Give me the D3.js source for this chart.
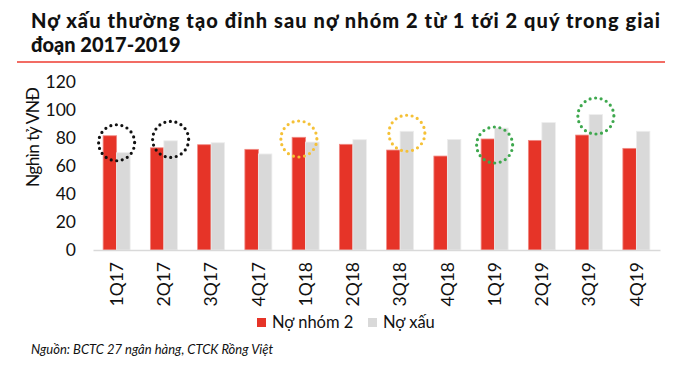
<!DOCTYPE html>
<html>
<head>
<meta charset="utf-8">
<script src="https://cdn.jsdelivr.net/npm/d3@7"></script>
<style>
  body { margin: 0; background: #fff; }
  svg { display: block; font-family: 'Lato', 'Open Sans', sans-serif; }
</style>
</head>
<body>
<svg id="chart" width="676" height="368"></svg>
<script>
const categories = ['1Q17','2Q17','3Q17','4Q17','1Q18','2Q18','3Q18','4Q18','1Q19','2Q19','3Q19','4Q19'];
const noNhom2 = [81.6, 73, 75.2, 71.9, 80.5, 75.5, 71.4, 67.1, 79.3, 78.3, 82.1, 72.6];
const noXau   = [69.5, 78, 76.6, 68.6, 77.1, 78.8, 84.8, 79, 87.1, 91, 96.7, 84.8];
const yTicks  = [0, 20, 40, 60, 80, 100, 120];
const seriesNames = ['Nợ nhóm 2', 'Nợ xấu'];
// dotted circles: which category, which bar (or middle), value at centre
const circles = [
  {cat: '1Q17', at: 'mid',  value: 76.6, color: '#111'},
  {cat: '2Q17', at: 'Nợ xấu', value: 79, color: '#111'},
  {cat: '1Q18', at: 'Nợ nhóm 2', value: 79.3, color: '#F5C137'},
  {cat: '3Q18', at: 'Nợ xấu', value: 83.4, color: '#F5C137'},
  {cat: '1Q19', at: 'mid',  value: 75, color: '#3EA84E'},
  {cat: '3Q19', at: 'Nợ xấu', value: 95.7, color: '#3EA84E'}
];

const colors = {'Nợ nhóm 2': '#E63428', 'Nợ xấu': '#D9D9D9'};
const svg = d3.select('#chart');

// title
const title = svg.append('g').attr('class', 'title')
  .attr('font-weight', 900).attr('font-size', 20).attr('fill', '#111');
title.append('text').attr('x', 31).attr('y', 28)
  .attr('textLength', 629).attr('lengthAdjust', 'spacing')
  .text('Nợ xấu thường tạo đỉnh sau nợ nhóm 2 từ 1 tới 2 quý trong giai');
title.append('text').attr('x', 31).attr('y', 52).text('đoạn 2017-2019');
svg.append('line').attr('x1', 17).attr('x2', 665).attr('y1', 62).attr('y2', 62)
  .attr('stroke', '#EE3B30').attr('stroke-width', 1.5);

const area = {left: 93, right: 660, top: 82, bottom: 250};

const x0 = d3.scaleBand().domain(categories).range([area.left, area.right]);
const x1 = d3.scaleBand().domain(seriesNames).range([0, x0.bandwidth()]).paddingOuter(0.75);
const y = d3.scaleLinear().domain([0, 120]).range([area.bottom, area.top]);

// y axis (labels only)
const yAxis = svg.append('g').attr('class', 'axis y-axis')
  .attr('transform', `translate(${area.left},0)`)
  .call(d3.axisLeft(y).tickValues(yTicks).tickSize(0).tickPadding(17));
yAxis.select('.domain').remove();
yAxis.selectAll('text').attr('font-size', 17.5).attr('fill', '#111')
  .attr('font-family', "'Lato', sans-serif");

svg.append('text')
  .attr('transform', 'translate(39,137) rotate(-90)')
  .attr('text-anchor', 'middle').attr('font-size', 17.5).attr('fill', '#111')
  .attr('textLength', 100).attr('lengthAdjust', 'spacing')
  .text('Nghìn tỷ VNĐ');

// bars
const rows = categories.map((c, i) => ({cat: c, vals: [
  {s: seriesNames[0], v: noNhom2[i]},
  {s: seriesNames[1], v: noXau[i]}
]}));

const groups = svg.append('g').selectAll('.column').data(rows).enter()
  .append('g').attr('class', 'column')
  .attr('transform', d => `translate(${x0(d.cat)},0)`);
groups.selectAll('rect').data(d => d.vals).enter().append('rect')
  .attr('x', d => x1(d.s))
  .attr('y', d => y(d.v))
  .attr('width', x1.bandwidth())
  .attr('height', d => y(0) - y(d.v))
  .attr('fill', d => colors[d.s])
  .attr('stroke', d => d.s === seriesNames[0] ? '#F08A84' : '#EDEDED')
  .attr('stroke-width', 0.8);

// x axis
const xAxis = svg.append('g').attr('class', 'axis x-axis')
  .attr('transform', `translate(0,${area.bottom})`)
  .call(d3.axisBottom(x0).tickSize(0).tickPadding(0));
xAxis.select('.domain').attr('stroke', '#D9D9D9').attr('stroke-width', 1.5);
xAxis.selectAll('text')
  .attr('font-size', 17.5).attr('fill', '#111')
  .attr('font-family', "'Lato', sans-serif")
  .attr('text-anchor', 'end')
  .attr('dy', '0.35em')
  .attr('transform', 'translate(0,12) rotate(-90)')
  .attr('x', 0).attr('y', 0);

// dotted circles
svg.append('g').selectAll('circle').data(circles).enter().append('circle')
  .attr('cx', d => x0(d.cat) + (d.at === 'mid' ? x0.bandwidth() / 2 : x1(d.at) + x1.bandwidth() / 2))
  .attr('cy', d => y(d.value))
  .attr('r', 18)
  .attr('fill', 'none')
  .attr('stroke', d => d.color)
  .attr('stroke-width', 3.2)
  .attr('stroke-linecap', 'round')
  .attr('stroke-dasharray', '0 5.6');

// legend
const legend = svg.append('g').attr('class', 'legend').attr('font-size', 16.5).attr('fill', '#111');
const legendX = [257, 368];
seriesNames.forEach((s, i) => {
  legend.append('rect').attr('x', legendX[i]).attr('y', 318).attr('width', 9).attr('height', 9)
    .attr('fill', colors[s]);
  legend.append('text').attr('x', legendX[i] + 15).attr('y', 328).text(s);
});

// source
svg.append('text').attr('x', 31).attr('y', 354)
  .attr('font-size', 13).attr('font-style', 'italic').attr('fill', '#111')
  .text('Nguồn: BCTC 27 ngân hàng, CTCK Rồng Việt');
</script>
</body>
</html>
